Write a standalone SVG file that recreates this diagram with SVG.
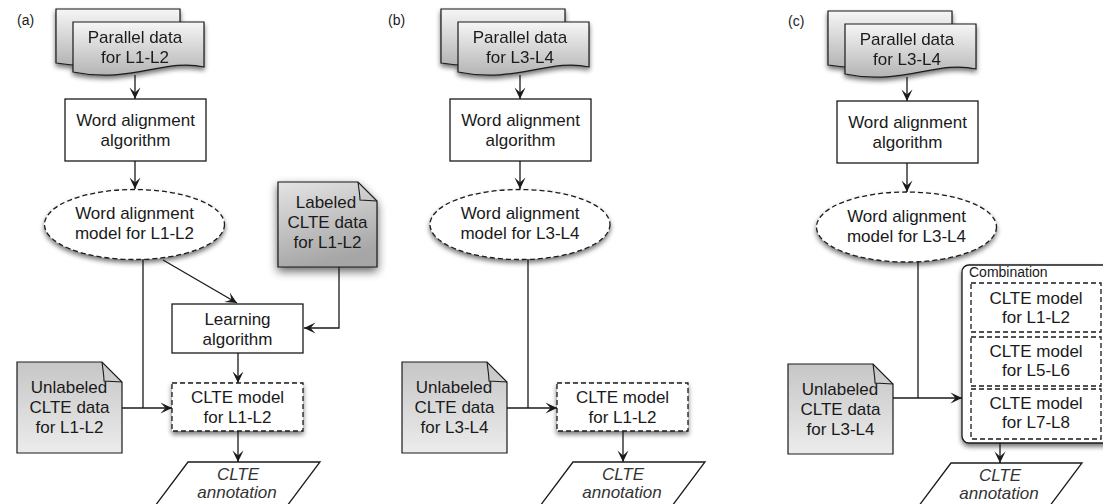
<svg xmlns="http://www.w3.org/2000/svg" width="1103" height="504" viewBox="0 0 1103 504">
<style>
.t{font-family:"Liberation Sans",Arial,Helvetica,sans-serif;font-size:17px;fill:#1a1a1a;text-anchor:middle}
.it{font-family:"Liberation Sans",Arial,Helvetica,sans-serif;font-size:17px;font-style:italic;fill:#333;text-anchor:middle}
.lab{font-family:"Liberation Sans",Arial,Helvetica,sans-serif;font-size:14px;fill:#1a1a1a}
.box{fill:#fff;stroke:#1a1a1a;stroke-width:1.3}
.dash{fill:#fff;stroke:#1a1a1a;stroke-width:1.3;stroke-dasharray:5,3}
.pd{fill:url(#gpd);stroke:#1a1a1a;stroke-width:1.2}
.ul{fill:url(#gul);stroke:#1a1a1a;stroke-width:1.2}
.lb{fill:url(#glb);stroke:#1a1a1a;stroke-width:1.2}
.fold{fill:none;stroke:#1a1a1a;stroke-width:1.1}
.c{fill:none;stroke:#1a1a1a;stroke-width:1.3}
.ca{fill:none;stroke:#1a1a1a;stroke-width:1.3;marker-end:url(#ah)}
</style>
<defs>
<linearGradient id="gpd" x1="0" y1="0" x2="0" y2="1"><stop offset="0" stop-color="#f6f6f6"/><stop offset="1" stop-color="#b4b4b4"/></linearGradient>
<linearGradient id="gul" x1="0" y1="0" x2="0" y2="1"><stop offset="0" stop-color="#c6c6c6"/><stop offset="1" stop-color="#ececec"/></linearGradient>
<linearGradient id="glb" x1="0" y1="0" x2="0.3" y2="1"><stop offset="0" stop-color="#e4e4e4"/><stop offset="1" stop-color="#a6a6a6"/></linearGradient>
<filter id="sh" x="-20%" y="-20%" width="140%" height="150%">
<feGaussianBlur in="SourceAlpha" stdDeviation="2.5"/><feOffset dy="3" result="b"/>
<feComponentTransfer><feFuncA type="linear" slope="0.55"/></feComponentTransfer>
<feMerge><feMergeNode/><feMergeNode in="SourceGraphic"/></feMerge>
</filter>
<filter id="shb" x="-30%" y="-30%" width="160%" height="170%">
<feGaussianBlur in="SourceAlpha" stdDeviation="5"/><feOffset dy="4" result="b"/>
<feComponentTransfer><feFuncA type="linear" slope="0.6"/></feComponentTransfer>
<feMerge><feMergeNode/><feMergeNode in="SourceGraphic"/></feMerge>
</filter>
<marker id="ah" markerUnits="userSpaceOnUse" markerWidth="13" markerHeight="12" refX="12" refY="6" orient="auto" viewBox="0 0 13 12">
<path d="M0.5,0.5 L12,6 L0.5,11.5 L5.5,6 Z" fill="#1a1a1a"/>
</marker>
</defs>

<!-- panel labels -->
<text class="lab" x="17" y="25">(a)</text>
<text class="lab" x="388" y="25">(b)</text>
<text class="lab" x="788" y="26">(c)</text>

<!-- ===== Panel (a) ===== -->
<g id="a-parallel" filter="url(#sh)">
<path class="pd" d="M56,9 H180 V58 C150,51 110,72 56,63 Z"/>
<path class="pd" d="M73,22 H204 V67 C165,58 130,84 73,72 Z"/>
<text class="t" x="135" y="43">Parallel data</text>
<text class="t" x="135" y="63">for L1-L2</text>
</g>
<g id="a-wordalign">
<rect class="box" x="65" y="99" width="141" height="62"/>
<text class="t" x="135.5" y="126">Word alignment</text>
<text class="t" x="135.5" y="146">algorithm</text>
</g>
<g id="a-wamodel">
<ellipse class="dash" cx="134.5" cy="224.5" rx="90" ry="35" filter="url(#sh)"/>
<text class="t" x="134.5" y="219">Word alignment</text>
<text class="t" x="134.5" y="239">model for L1-L2</text>
</g>
<g id="a-labeled">
<path class="lb" d="M278,182 H358 L377,201 V267 H278 Z" filter="url(#shb)"/>
<path class="fold" d="M358,182 C359,190 360,196 360,200 L377,201"/>
<text class="t" x="326" y="208">Labeled</text>
<text class="t" x="327.5" y="228">CLTE data</text>
<text class="t" x="327.5" y="248">for L1-L2</text>
</g>
<g id="a-learning">
<rect class="box" x="172" y="304" width="131" height="49"/>
<text class="t" x="237.5" y="325">Learning</text>
<text class="t" x="237.5" y="345">algorithm</text>
</g>
<g id="a-unlabeled">
<path class="ul" d="M17,362 H102 L122,382 V453 H17 Z"/>
<path class="fold" d="M102,362 C103,370 104,376 104,381 L122,382"/>
<text class="t" x="69" y="393">Unlabeled</text>
<text class="t" x="69.5" y="413">CLTE data</text>
<text class="t" x="69.5" y="433">for L1-L2</text>
</g>
<g id="a-cltemodel">
<rect class="dash" x="172" y="383" width="131" height="48" filter="url(#sh)"/>
<text class="t" x="237.5" y="403">CLTE model</text>
<text class="t" x="237.5" y="423">for L1-L2</text>
</g>
<g id="a-annotation">
<path class="box" d="M188,462 H320 L281,514 H149 Z"/>
<text class="it" x="238" y="480">CLTE</text>
<text class="it" x="237" y="498">annotation</text>
</g>

<!-- ===== Panel (b) ===== -->
<g id="b-parallel" filter="url(#sh)">
<path class="pd" d="M441,9 H565 V58 C535,51 495,72 441,63 Z"/>
<path class="pd" d="M458,22 H589 V67 C550,58 515,84 458,72 Z"/>
<text class="t" x="520" y="43">Parallel data</text>
<text class="t" x="520" y="63">for L3-L4</text>
</g>
<g id="b-wordalign">
<rect class="box" x="450" y="99" width="141" height="62"/>
<text class="t" x="520.5" y="126">Word alignment</text>
<text class="t" x="520.5" y="146">algorithm</text>
</g>
<g id="b-wamodel">
<ellipse class="dash" cx="520" cy="224.5" rx="90" ry="35" filter="url(#sh)"/>
<text class="t" x="520" y="219">Word alignment</text>
<text class="t" x="520" y="239">model for L3-L4</text>
</g>
<g id="b-unlabeled">
<path class="ul" d="M402,362 H487 L507,382 V453 H402 Z"/>
<path class="fold" d="M487,362 C488,370 489,376 489,381 L507,382"/>
<text class="t" x="454" y="393">Unlabeled</text>
<text class="t" x="454.5" y="413">CLTE data</text>
<text class="t" x="454.5" y="433">for L3-L4</text>
</g>
<g id="b-cltemodel">
<rect class="dash" x="557" y="383" width="131" height="48" filter="url(#sh)"/>
<text class="t" x="622.5" y="403">CLTE model</text>
<text class="t" x="622.5" y="423">for L1-L2</text>
</g>
<g id="b-annotation">
<path class="box" d="M573,462 H705 L666,514 H534 Z"/>
<text class="it" x="623" y="480">CLTE</text>
<text class="it" x="622" y="498">annotation</text>
</g>

<!-- ===== Panel (c) ===== -->
<g id="c-parallel" filter="url(#sh)">
<path class="pd" d="M828,11 H952 V60 C922,53 882,74 828,65 Z"/>
<path class="pd" d="M845,24 H976 V69 C937,60 902,86 845,74 Z"/>
<text class="t" x="907" y="45">Parallel data</text>
<text class="t" x="907" y="65">for L3-L4</text>
</g>
<g id="c-wordalign">
<rect class="box" x="837" y="101" width="141" height="62"/>
<text class="t" x="907.5" y="128">Word alignment</text>
<text class="t" x="907.5" y="148">algorithm</text>
</g>
<g id="c-wamodel">
<ellipse class="dash" cx="906.5" cy="227" rx="90" ry="35" filter="url(#sh)"/>
<text class="t" x="906.5" y="222">Word alignment</text>
<text class="t" x="906.5" y="242">model for L3-L4</text>
</g>
<g id="c-unlabeled">
<path class="ul" d="M788,364 H873 L893,384 V454 H788 Z"/>
<path class="fold" d="M873,364 C874,372 875,378 875,383 L893,384"/>
<text class="t" x="840" y="395">Unlabeled</text>
<text class="t" x="840.5" y="415">CLTE data</text>
<text class="t" x="840.5" y="435">for L3-L4</text>
</g>
<g id="c-combination">
<rect class="box" x="962" y="265" width="150" height="178" rx="7" filter="url(#sh)"/>
<text class="lab" x="969" y="277">Combination</text>
<rect class="dash" x="971" y="283" width="130" height="49"/>
<text class="t" x="1036" y="304">CLTE model</text>
<text class="t" x="1036" y="323">for L1-L2</text>
<rect class="dash" x="971" y="337" width="130" height="49"/>
<text class="t" x="1036" y="357">CLTE model</text>
<text class="t" x="1036" y="376">for L5-L6</text>
<rect class="dash" x="971" y="389" width="130" height="50"/>
<text class="t" x="1036" y="409">CLTE model</text>
<text class="t" x="1036" y="428">for L7-L8</text>
</g>
<g id="c-annotation">
<path class="box" d="M951,463 H1082 L1043,515 H912 Z"/>
<text class="it" x="1000" y="481">CLTE</text>
<text class="it" x="999" y="499">annotation</text>
</g>

<!-- ===== Connectors ===== -->
<g id="connectors">
<path class="ca" d="M135,75 V99"/>
<path class="ca" d="M135,161 V189"/>
<path class="ca" d="M163,260 L237,303"/>
<path class="ca" d="M339,267 V328 H304"/>
<path class="c" d="M143,259 V408"/>
<path class="ca" d="M122,408 H172"/>
<path class="ca" d="M238,353 V383"/>
<path class="ca" d="M238,431 V462"/>

<path class="ca" d="M520,75 V99"/>
<path class="ca" d="M520,161 V189"/>
<path class="c" d="M528,259 V408"/>
<path class="ca" d="M507,408 H557"/>
<path class="ca" d="M623,431 V462"/>

<path class="ca" d="M907,77 V101"/>
<path class="ca" d="M907,163 V192"/>
<path class="c" d="M918,261 V398"/>
<path class="ca" d="M893,398 H962"/>
<path class="ca" d="M1000,443 V463"/>
</g>
</svg>
